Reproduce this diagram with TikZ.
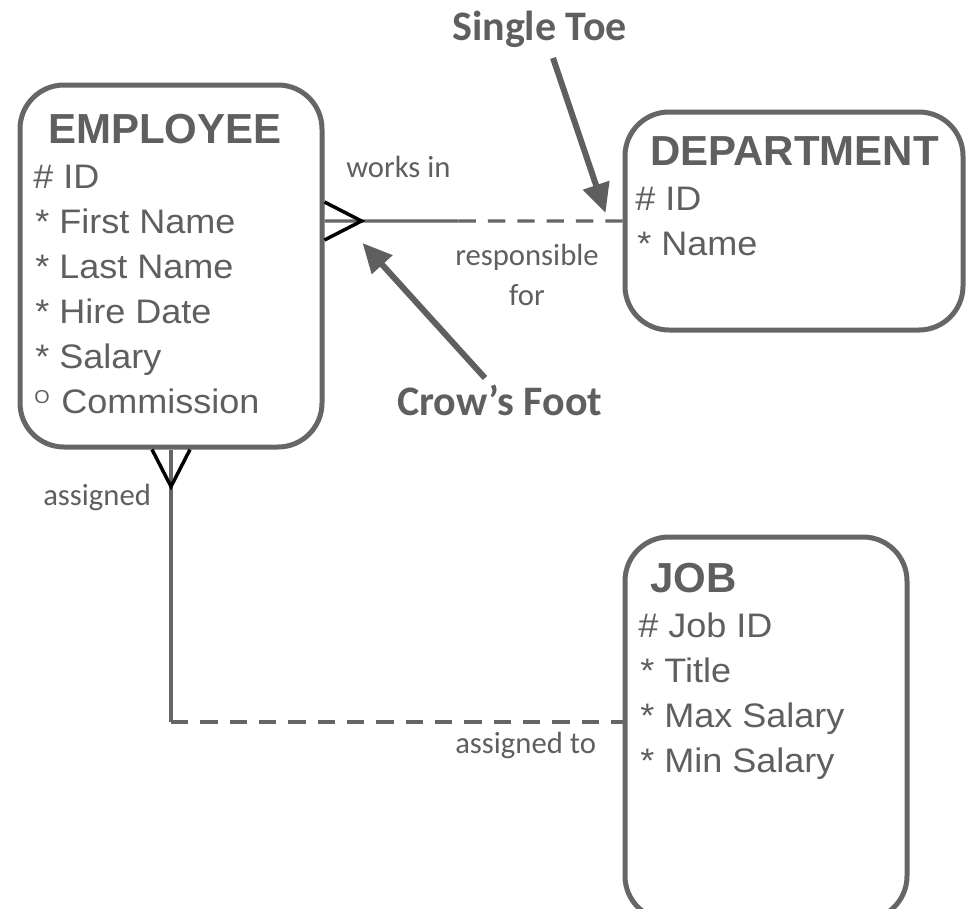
\documentclass[tikz,border=0pt]{standalone}
\usepackage{fontspec}
\setmainfont{Liberation Sans}
\newfontfamily\entfont[FakeStretch=1.06]{Liberation Sans}
\newfontfamily\notefont{Carlito}
\usetikzlibrary{calc}
\usetikzlibrary{fit}
\usetikzlibrary{arrows.meta}
\definecolor{ergrey}{HTML}{5F5F5F}
\definecolor{linegrey}{HTML}{666666}

\begin{document}
\begin{tikzpicture}[x=0.75pt, y=-0.75pt]
                    \tikzstyle{entity} = [draw=linegrey, line width=3.75pt, rounded corners=33pt, inner sep=0pt]
                    \tikzstyle{title} = [anchor=base west, inner sep=0pt, text=ergrey, font=\fontsize{31.5}{31.5}\selectfont\bfseries]
                    \tikzstyle{attr} = [anchor=base west, inner sep=0pt, text=ergrey, font=\entfont\fontsize{25.5}{25.5}\selectfont]
                    \tikzstyle{relname} = [anchor=base west, inner sep=0pt, text=ergrey, font=\notefont\fontsize{23}{23}\selectfont]
                    \tikzstyle{callout} = [anchor=base west, inner sep=0pt, text=ergrey, font=\notefont\fontsize{31.5}{31.5}\selectfont\bfseries]
                    \tikzstyle{rel} = [draw=linegrey, line width=2.6pt]
                    \tikzstyle{optional} = [rel, dash pattern=on 13pt off 9pt]
                    \tikzstyle{foot} = [draw=black, line width=2.6pt]
                    \tikzstyle{pointer} = [draw=ergrey, line width=4.5pt, -{Triangle[length=22pt, width=20pt]}]
                    \useasboundingbox (0, 0) rectangle (967, 908);
                    % entities
                    \node[entity, fit={(20, 85) (322, 447)}] (emp) {};
                    \node[entity, fit={(625, 112) (963, 330)}] (dept) {};
                    \node[entity, fit={(625, 537) (907, 920)}] (job) {};
                    \node[title] (empname) at (48, 143) {EMPLOYEE};
                    \node[attr] (empid) at (33, 188) {\# ID};
                    \node[attr] (empfirst) at (35, 233) {* First Name};
                    \node[attr] (emplast) at (35, 278) {* Last Name};
                    \node[attr] (emphire) at (35, 323) {* Hire Date};
                    \node[attr] (empsal) at (35, 368) {* Salary};
                    \node[attr, font=\entfont\fontsize{14}{14}\selectfont] (empopt) at (34, 403) {O};
                    \node[attr] (empcomm) at (61, 413) {Commission};
                    \node[title] (deptname) at (650, 165) {DEPARTMENT};
                    \node[attr] (deptid) at (635, 210) {\# ID};
                    \node[attr] (deptnm) at (637, 255) {* Name};
                    \node[title] (jobname) at (650, 592) {JOB};
                    \node[attr] (jobid) at (638, 637) {\# Job ID};
                    \node[attr] (jobtitle) at (640, 682) {* Title};
                    \node[attr] (jobmax) at (640, 727) {* Max Salary};
                    \node[attr] (jobmin) at (640, 772) {* Min Salary};
                    % works in / responsible for
                    \coordinate (wa) at (emp.east |- dept.west);
                    \coordinate (wmid) at ($(wa)!0.45!(dept.west)$);
                    \draw[rel] (wa) -- (wmid);
                    \draw[optional] (wmid) -- (dept.west);
                    \draw[foot] ($(wa)+(0, -19)$) -- ($(wa)+(37, 0)$) -- ($(wa)+(0, 19)$);
                    \node[relname] (works) at (346, 177) {works in};
                    \node[relname, anchor=base, align=center] (resp) at (527, 305) {responsible\\[7pt]for};
                    % assigned / assigned to
                    \coordinate (bend) at (emp.south |- 0, 722);
                    \draw[rel] (emp.south) -- (bend);
                    \draw[optional] (bend) -- (bend -| job.west);
                    \draw[foot] ($(emp.south)+(-19, 0)$) -- ($(emp.south)+(0, 37)$) -- ($(emp.south)+(19, 0)$);
                    \node[relname] (assig) at (43, 505) {assigned};
                    \node[relname] (assigto) at (455, 753) {assigned to};
                    % callouts
                    \node[callout] (toe) at (452, 40) {Single Toe};
                    \node[callout] (crow) at (397, 415) {Crow’s Foot};
                    \coordinate (toetip) at ($(dept.west)+(-17, -8)$);
                    \coordinate (crowtip) at ($(wa)+(38, 22)$);
                    \draw[pointer] (553, 58) -- (toetip);
                    \draw[pointer] (485, 378) -- (crowtip);
                \end{tikzpicture}
\end{document}
